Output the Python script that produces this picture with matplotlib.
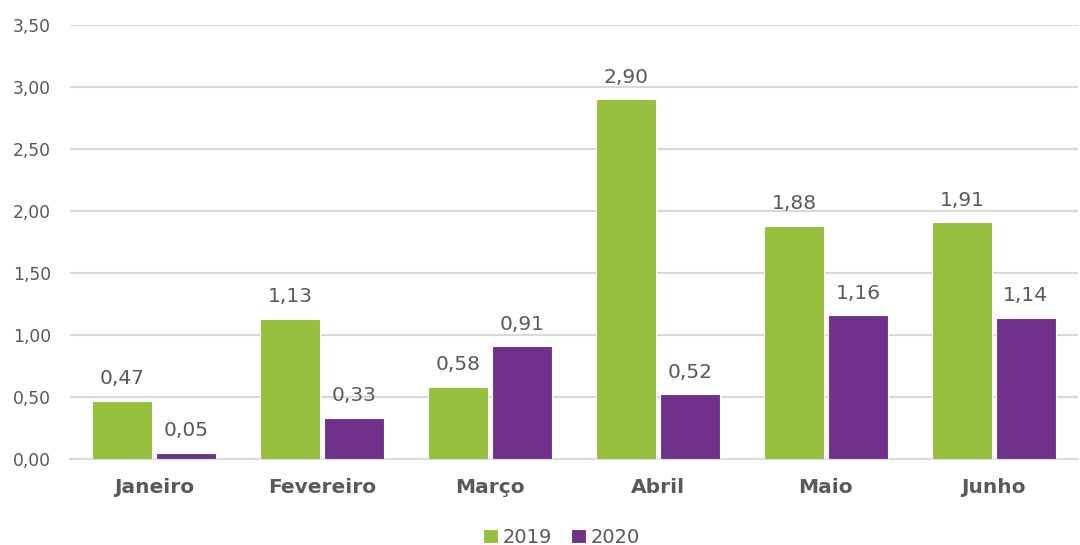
import numpy as np
import matplotlib.pyplot as plt

plt.rcParams['font.family'] = ['DejaVu Sans']

months = ["Janeiro", "Fevereiro", "Março", "Abril", "Maio", "Junho"]
values_2019 = [0.47, 1.13, 0.58, 2.90, 1.88, 1.91]
values_2020 = [0.05, 0.33, 0.91, 0.52, 1.16, 1.14]
yticks = [0, 0.5, 1.0, 1.5, 2.0, 2.5, 3.0, 3.5]

green = "#95BF3D"
purple = "#70318B"
text_color = "#595959"
grid_color = "#D9D9D9"


def br(v):
    return f"{v:.2f}".replace(".", ",")


fig = plt.figure(figsize=(10.8, 5.45), dpi=100)
ax = fig.add_axes([0.065, 0.158, 0.933, 0.796])

x = np.arange(len(months))
w = 0.355
off = 0.19
b1 = ax.bar(x - off, values_2019, w, color=green, edgecolor="white", linewidth=0.8,
            label="2019", zorder=3)
b2 = ax.bar(x + off, values_2020, w, color=purple, edgecolor="white", linewidth=0.8,
            label="2020", zorder=3)

for bars, vals in ((b1, values_2019), (b2, values_2020)):
    for bar, v in zip(bars, vals):
        ax.annotate(br(v), (bar.get_x() + bar.get_width() / 2, v),
                    xytext=(0, 9), textcoords="offset points",
                    ha="center", va="bottom", fontsize=14.5, color=text_color)

ax.set_xlim(-0.5, len(months) - 0.5)
ax.set_ylim(0, 3.5)
ax.set_yticks(yticks)
ax.set_yticklabels([br(t) for t in yticks], fontsize=12.3, color=text_color)
ax.set_xticks(x)
ax.set_xticklabels(months, fontsize=14.5, fontweight="bold", color=text_color)
ax.tick_params(length=0)
ax.tick_params(axis="x", pad=14)
ax.tick_params(axis="y", pad=14)

ax.grid(axis="y", color=grid_color, linewidth=1.5, zorder=0)
for side in ("top", "right", "left"):
    ax.spines[side].set_visible(False)
ax.spines["bottom"].set_color(grid_color)
ax.spines["bottom"].set_linewidth(1.5)

fig.legend(loc="lower center", bbox_to_anchor=(0.52, -0.035), ncol=2, frameon=False,
           fontsize=14, labelcolor=text_color, handlelength=0.75, handleheight=0.75,
           handletextpad=0.25, columnspacing=1.0)

fig.savefig("out.png", dpi=100)
